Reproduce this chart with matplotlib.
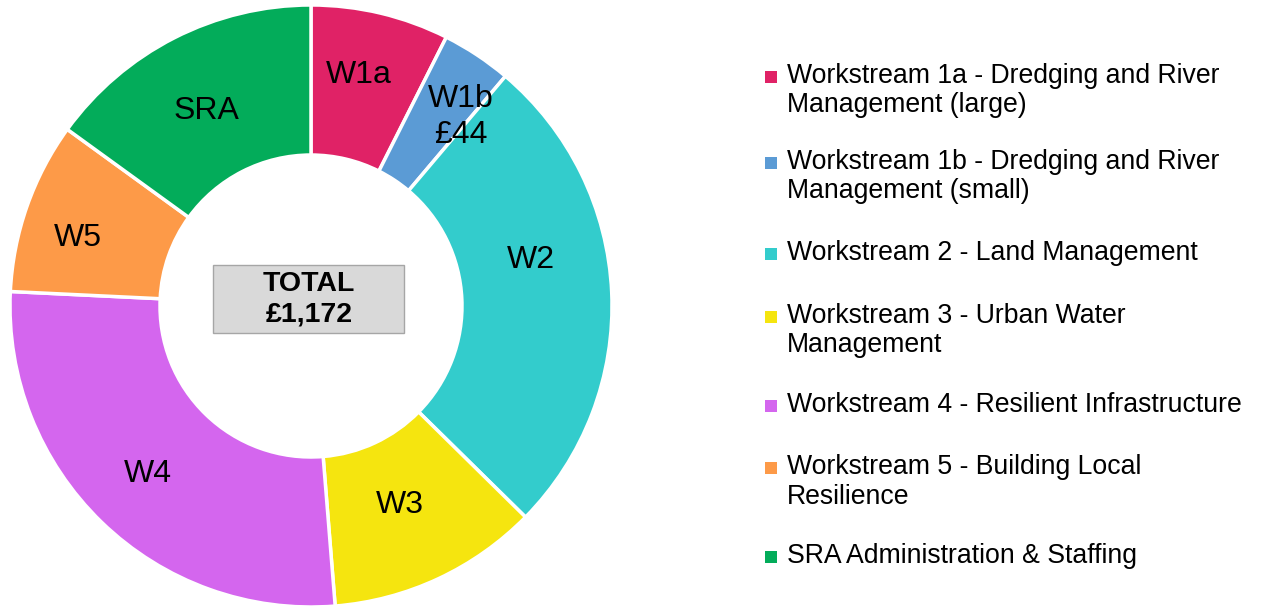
import matplotlib
matplotlib.use("Agg")
import matplotlib.pyplot as plt
from matplotlib.patches import Rectangle

plt.rcParams['font.family'] = ['Liberation Sans', 'DejaVu Sans']

# data
codes = ['W1a', 'W1b', 'W2', 'W3', 'W4', 'W5', 'SRA']
values = [87, 44, 307, 133, 317, 108, 176]
names = [
    'Workstream 1a - Dredging and River\nManagement (large)',
    'Workstream 1b - Dredging and River\nManagement (small)',
    'Workstream 2 - Land Management',
    'Workstream 3 - Urban Water\nManagement',
    'Workstream 4 - Resilient Infrastructure',
    'Workstream 5 - Building Local\nResilience',
    'SRA Administration & Staffing',
]
colors = ['#E02266', '#5B9BD5', '#33CCCC', '#F5E50F', '#D466EE', '#FD9A48', '#03AC5A']
total = sum(values)

# layout (pixels, y measured from top)
W, H = 1261, 608
cx, cy, R, hole = 311, 306, 301, 151
label_px = [(359, 75), (461, 117), (531, 260), (400, 505), (148, 474), (78, 238), (206, 111)]
legend_base = [83, 169, 260, 323, 412, 474, 563]
line_step = 29.5

fig = plt.figure(figsize=(W / 100, H / 100), dpi=100)
ax = fig.add_axes([0, 0, 1, 1])

ax.pie(values, colors=colors, startangle=90, counterclock=False,
       center=(cx, H - cy), radius=R,
       wedgeprops=dict(width=R - hole, edgecolor='white', linewidth=2.5))

for i, code in enumerate(codes):
    x, y = label_px[i]
    txt = code
    if code == 'W1b':
        txt = 'W1b\n£%d' % values[i]
    ax.text(x, H - y, txt, ha='center', va='center', fontsize=23,
            linespacing=1.25, color='black')

# total box in the hole
ax.add_patch(Rectangle((213, H - 333), 191, 68, facecolor='#D9D9D9',
                       edgecolor='#A6A6A6', linewidth=1))
ax.text(309, H - 299.5, 'TOTAL\n£{:,}'.format(total), ha='center', va='center',
        fontsize=20.5, fontweight='bold', linespacing=1.25)

# legend drawn by hand
for i, name in enumerate(names):
    b = legend_base[i]
    ax.add_patch(Rectangle((765, H - b), 12, 12, facecolor=colors[i], edgecolor='none'))
    for j, line in enumerate(name.split('\n')):
        ax.text(787, H - (b + j * line_step), line, ha='left', va='baseline',
                fontsize=19.2, color='black')

ax.set_xlim(0, W)
ax.set_ylim(0, H)
ax.set_aspect('auto')
ax.axis('off')

fig.savefig('out.png', dpi=100, facecolor='white')
